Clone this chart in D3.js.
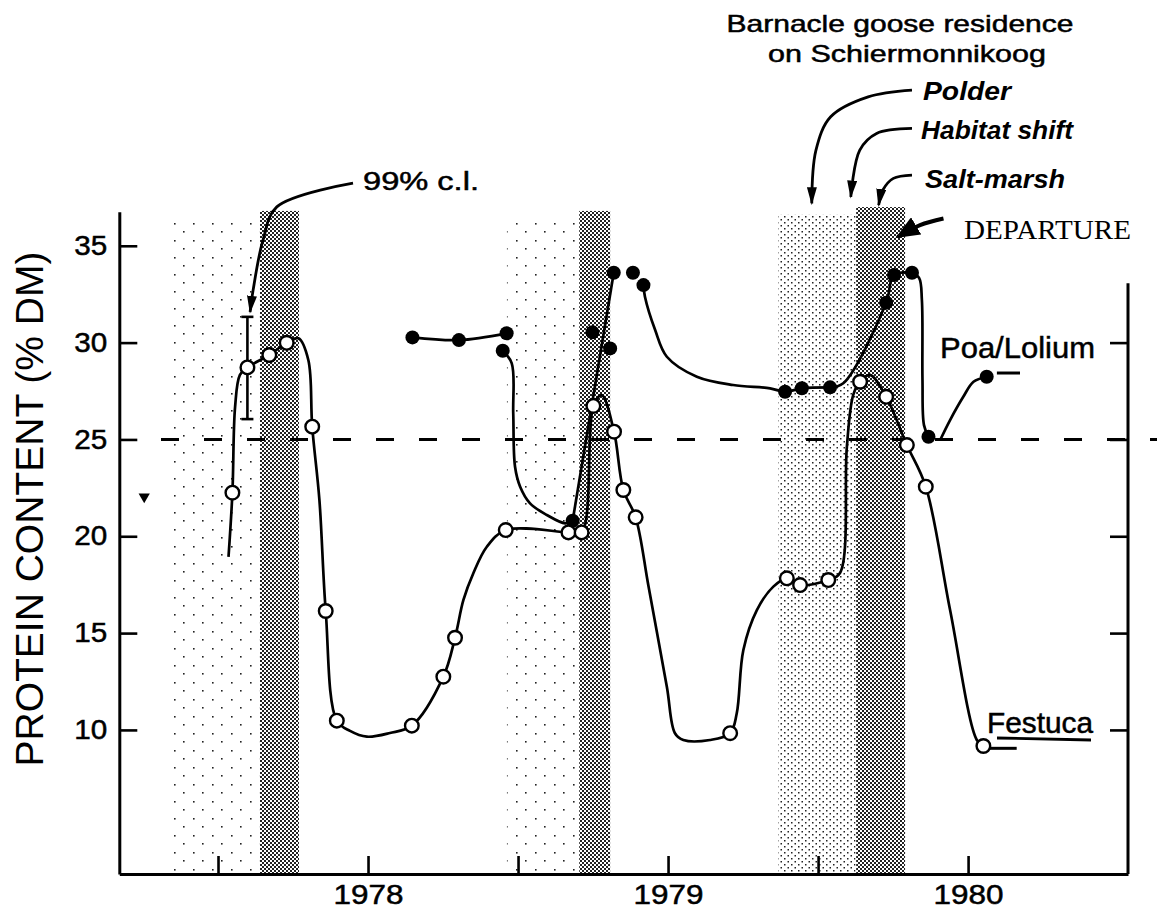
<!DOCTYPE html>
<html>
<head>
<meta charset="utf-8">
<script src="https://cdn.jsdelivr.net/npm/d3@7"></script>
<style>
  body { margin: 0; background: #fff; }
  svg { display: block; font-family: "Liberation Sans", Arial, sans-serif; }
  .heavy { stroke: #000; stroke-width: 0.5; }
</style>
</head>
<body>
<div id="chart"></div>
<script>
// ---- data (year, protein % DM) ----

// Festuca: open circles
const festucaPoints = [
    [1977.548, 22.25], [1977.598, 28.72], [1977.671, 29.36], [1977.729, 29.99],
    [1977.814, 25.66], [1977.859, 16.14], [1977.896, 10.48], [1978.146, 10.22],
    [1978.251, 12.75], [1978.290, 14.76], [1978.459, 20.32], [1978.668, 20.20],
    [1978.712, 20.20], [1978.751, 26.73], [1978.820, 25.40], [1978.851, 22.39],
    [1978.892, 20.98], [1979.207, 9.83], [1979.396, 17.83], [1979.440, 17.48],
    [1979.534, 17.74], [1979.640, 27.98], [1979.727, 27.20], [1979.796, 24.71],
    [1979.859, 22.56], [1980.051, 9.17]
];

// hand drawn Festuca line
const festucaLine = [
    [1977.535, 18.94], [1977.548, 22.25], [1977.557, 26.69], [1977.573, 28.33],
    [1977.598, 28.72], [1977.671, 29.36], [1977.729, 29.99], [1977.768, 30.22],
    [1977.801, 29.10], [1977.814, 25.66], [1977.838, 21.87], [1977.859, 16.14],
    [1977.896, 10.48], [1977.940, 9.95], [1977.996, 9.65], [1978.073, 9.84],
    [1978.146, 10.22], [1978.251, 12.75], [1978.290, 14.76], [1978.318, 16.71],
    [1978.351, 18.09], [1978.396, 19.46], [1978.459, 20.32], [1978.668, 20.20],
    [1978.712, 20.20], [1978.751, 26.73], [1978.779, 27.29], [1978.820, 25.40],
    [1978.851, 22.39], [1978.892, 20.98], [1978.935, 17.40],
    [1978.996, 12.23], [1979.023, 9.83], [1979.051, 9.48], [1979.140, 9.48],
    [1979.207, 9.83], [1979.229, 10.86], [1979.251, 14.13], [1979.296, 16.19],
    [1979.351, 17.40], [1979.396, 17.83], [1979.440, 17.48], [1979.534, 17.74],
    [1979.573, 18.10], [1979.596, 24.62], [1979.617, 27.29], [1979.640, 27.98],
    [1979.673, 28.33], [1979.727, 27.20], [1979.796, 24.71], [1979.859, 22.56],
    [1979.940, 16.19], [1980.029, 9.48], [1980.051, 9.17]
];

// Poa/Lolium: filled circles
const poaPoints = [
    [1978.148, 30.27], [1978.303, 30.13], [1978.462, 30.48], [1978.449, 29.58],
    [1978.682, 20.80], [1978.748, 30.53], [1978.807, 29.70], [1978.819, 33.61],
    [1978.883, 33.61], [1978.918, 32.97], [1979.390, 27.46], [1979.446, 27.64],
    [1979.540, 27.69], [1979.727, 32.06], [1979.753, 33.49], [1979.813, 33.61],
    [1979.868, 25.14], [1980.062, 28.24]
];

// Poa/Lolium line pieces
const poaLines = [
    [[1978.148, 30.27], [1978.303, 30.13], [1978.462, 30.48]],
    [[1978.449, 29.58], [1978.479, 28.93], [1978.484, 26.35], [1978.490, 23.59],
     [1978.507, 22.56], [1978.540, 21.70], [1978.596, 21.10], [1978.657, 20.67], [1978.682, 20.80]],
    [[1978.682, 20.80], [1978.819, 33.61]],
    [[1978.918, 32.97], [1978.923, 32.37], [1978.957, 30.65], [1978.996, 29.27],
     [1979.096, 28.24], [1979.217, 27.81], [1979.340, 27.64], [1979.390, 27.46],
     [1979.446, 27.64], [1979.540, 27.69]],
    [[1979.540, 27.69], [1979.584, 27.90], [1979.727, 32.06], [1979.753, 33.49], [1979.813, 33.61]],
    [[1979.813, 33.61], [1979.837, 33.33], [1979.846, 32.20], [1979.848, 28.07],
     [1979.853, 25.74], [1979.868, 25.14]],
    [[1979.907, 24.97], [1979.940, 26.00], [1979.984, 27.20], [1980.018, 27.98], [1980.062, 28.24]]
];

// legend stubs after the last points
const festucaStub = [[1980.073, 9.05], [1980.162, 9.05]];
const poaStub = [[1980.096, 28.43], [1980.173, 28.43]];

// 99% confidence limit: year, low, high
const errorBar = [1977.598, 26.05, 31.33];
const oddMark = [1977.254, 22.04];

// shaded periods [start, end, top]
const darkBands = [[1977.640, 1977.770, 36.8], [1978.704, 1978.807, 36.8], [1979.627, 1979.790, 37.0]];
const sparseBands = [[1977.330, 1977.637, 36.5], [1978.463, 1978.703, 36.5]];
const polderBands = [[1979.367, 1979.625, 36.6]];

const refLevel = [1977.31, 1980.65, 25];

// axes
const yTicks = [10, 15, 20, 25, 30, 35];
const yTicksRight = [10, 15, 20, 25, 30];
const xTicks = [1977.5, 1978, 1978.5, 1979, 1979.5, 1980];
const xLabels = [1978, 1979, 1980];
const rightAxisTop = 33.07;

// annotation arrows (year, value), drawn tail -> head
const arrowCl = [[1977.950, 38.24], [1977.696, 37.01], [1977.650, 35.29], [1977.617, 32.71], [1977.607, 31.58]];
const arrowPolder = [[1979.813, 43.04], [1979.667, 42.69], [1979.542, 41.66], [1979.493, 39.94], [1979.479, 37.19]];
const arrowShift = [[1979.813, 41.06], [1979.695, 40.80], [1979.639, 39.94], [1979.609, 37.53]];
const arrowMarsh = [[1979.813, 38.65], [1979.751, 38.48], [1979.716, 37.88], [1979.702, 37.10]];
const arrowDeparture = [[1979.918, 36.41], [1979.840, 36.07], [1979.765, 35.46]];

// ---- chart ----
const width = 1157, height = 910;

const x = d3.scaleLinear([1977.171, 1980.533], [119.3, 1128]);
const y = d3.scaleLinear([2.56, 36.76], [874, 211.7]);

const svg = d3.select('#chart').append('svg')
    .attr('width', width)
    .attr('height', height);

const defs = svg.append('defs');

// halftone fills
function pattern(id, w, h, dots, size) {
    const p = defs.append('pattern')
        .attr('id', id)
        .attr('patternUnits', 'userSpaceOnUse')
        .attr('width', w).attr('height', h);
    p.append('rect').attr('width', w).attr('height', h).attr('fill', '#fff');
    dots.forEach(d => p.append('rect')
        .attr('x', d[0]).attr('y', d[1])
        .attr('width', size).attr('height', size)
        .attr('fill', '#222'));
}
pattern('dark', 4, 4, [[0, 0], [2, 2]], 2);
pattern('polder', 7, 6, [[0, 0], [3.5, 3]], 1.5);
pattern('sparse', 19, 17, [[3, 2], [12, 10]], 1.6);

function arrowHead(id, len, wid) {
    defs.append('marker')
        .attr('id', id)
        .attr('viewBox', '0 0 10 10')
        .attr('refX', 9).attr('refY', 5)
        .attr('markerUnits', 'userSpaceOnUse')
        .attr('markerWidth', len).attr('markerHeight', wid)
        .attr('preserveAspectRatio', 'none')
        .attr('orient', 'auto')
        .append('path')
        .attr('d', 'M0,0 L10,5 L0,10 Z')
        .attr('fill', '#000');
}
arrowHead('head', 18, 10);
arrowHead('bighead', 24, 20);

// bands
const bands = svg.append('g');
function drawBands(list, fill) {
    bands.selectAll(null)
        .data(list)
        .join('rect')
        .attr('x', d => x(d[0]))
        .attr('width', d => x(d[1]) - x(d[0]))
        .attr('y', d => y(d[2]))
        .attr('height', d => y.range()[0] - y(d[2]))
        .attr('fill', fill);
}
drawBands(sparseBands, 'url(#sparse)');
drawBands(polderBands, 'url(#polder)');
drawBands(darkBands, 'url(#dark)');

// 25 % reference line
svg.append('line')
    .attr('x1', x(refLevel[0])).attr('x2', x(refLevel[1]))
    .attr('y1', y(refLevel[2])).attr('y2', y(refLevel[2]))
    .attr('stroke', '#000')
    .attr('stroke-width', 3)
    .attr('stroke-dasharray', '18,25');

const line = d3.line()
    .x(d => x(d[0]))
    .y(d => y(d[1]))
    .curve(d3.curveCatmullRom.alpha(0.5));

const lines = svg.append('g')
    .attr('fill', 'none')
    .attr('stroke', '#000')
    .attr('stroke-width', 2.7)
    .attr('stroke-linejoin', 'round');

lines.append('path').attr('d', line(festucaLine));
lines.selectAll('path.poa')
    .data(poaLines)
    .join('path')
    .classed('poa', true)
    .attr('d', d => line(d));
lines.append('path').attr('d', line(festucaStub)).attr('stroke-width', 3);
lines.append('path').attr('d', line(poaStub)).attr('stroke-width', 3);

// error bar
const eb = svg.append('g').attr('stroke', '#000').attr('stroke-width', 2.6);
eb.append('line')
    .attr('x1', x(errorBar[0])).attr('x2', x(errorBar[0]))
    .attr('y1', y(errorBar[1])).attr('y2', y(errorBar[2]));
[errorBar[1], errorBar[2]].forEach(v => eb.append('line')
    .attr('x1', x(errorBar[0]) - 6).attr('x2', x(errorBar[0]) + 6)
    .attr('y1', y(v)).attr('y2', y(v)));

svg.append('path')
    .attr('d', d3.symbol(d3.symbolTriangle, 55)())
    .attr('transform', `translate(${x(oddMark[0])},${y(oddMark[1])}) rotate(180)`)
    .attr('fill', '#000');

// markers
svg.append('g')
    .selectAll('circle')
    .data(poaPoints)
    .join('circle')
    .attr('cx', d => x(d[0]))
    .attr('cy', d => y(d[1]))
    .attr('r', 7)
    .attr('fill', '#000');

svg.append('g')
    .selectAll('circle')
    .data(festucaPoints)
    .join('circle')
    .attr('cx', d => x(d[0]))
    .attr('cy', d => y(d[1]))
    .attr('r', 6.8)
    .attr('fill', '#fff')
    .attr('stroke', '#000')
    .attr('stroke-width', 2.4);

// axes
function styleAxis(g, labelLen) {
    g.attr('font-family', null).attr('font-size', null);
    g.selectAll('.domain').attr('stroke-width', 3);
    g.selectAll('.tick line').attr('stroke-width', 2.6);
    g.selectAll('.tick text')
        .classed('heavy', true)
        .attr('font-size', 27)
        .attr('fill', '#000')
        .attr('textLength', labelLen)
        .attr('lengthAdjust', 'spacingAndGlyphs');
}

const axisY = svg.append('g')
    .attr('transform', `translate(${x.range()[0]},0)`)
    .call(d3.axisLeft(y).tickValues(yTicks).tickSize(-18).tickSizeOuter(0).tickPadding(12));
styleAxis(axisY, 33);

const axisX = svg.append('g')
    .attr('transform', `translate(0,${y.range()[0]})`)
    .call(d3.axisBottom(x).tickValues(xTicks).tickSize(-18).tickSizeOuter(0).tickPadding(11)
        .tickFormat(d => xLabels.includes(d) ? d3.format('d')(d) : ''));
styleAxis(axisX, 70);

const axisR = svg.append('g')
    .attr('transform', `translate(${x.range()[1]},0)`)
    .call(d3.axisRight(y).tickValues(yTicksRight).tickSize(-18).tickFormat(''));
axisR.select('.domain').remove();
axisR.selectAll('.tick line').attr('stroke-width', 2.6);
axisR.append('line')
    .attr('y1', y.range()[0]).attr('y2', y(rightAxisTop))
    .attr('stroke', '#000').attr('stroke-width', 3);

// y axis title
svg.append('text')
    .attr('transform', 'translate(43,509) rotate(-90)')
    .attr('text-anchor', 'middle')
    .attr('font-size', 38)
    .attr('textLength', 515)
    .attr('lengthAdjust', 'spacingAndGlyphs')
    .text('PROTEIN CONTENT (% DM)');

// annotations
const notes = [
    { text: 'Barnacle goose residence', x: 900, y: 32, len: 347 },
    { text: 'on Schiermonnikoog', x: 907, y: 62, len: 278 },
];
svg.append('g').selectAll('text')
    .data(notes)
    .join('text')
    .classed('heavy', true)
    .attr('x', d => d.x).attr('y', d => d.y)
    .attr('text-anchor', 'middle')
    .attr('font-size', 24)
    .attr('textLength', d => d.len)
    .attr('lengthAdjust', 'spacingAndGlyphs')
    .text(d => d.text);

const italics = [
    { text: 'Polder', x: 923, y: 100, len: 88 },
    { text: 'Habitat shift', x: 921, y: 139, len: 152 },
    { text: 'Salt-marsh', x: 925, y: 188, len: 140 },
];
svg.append('g').selectAll('text')
    .data(italics)
    .join('text')
    .attr('x', d => d.x).attr('y', d => d.y)
    .attr('font-size', 26)
    .attr('font-style', 'italic')
    .attr('font-weight', 'bold')
    .attr('textLength', d => d.len)
    .attr('lengthAdjust', 'spacingAndGlyphs')
    .text(d => d.text);

svg.append('text')
    .attr('x', 964).attr('y', 239)
    .attr('font-family', '"Liberation Serif", "DejaVu Serif", serif')
    .attr('font-size', 27)
    .attr('textLength', 167)
    .attr('lengthAdjust', 'spacingAndGlyphs')
    .text('DEPARTURE');

svg.append('text')
    .classed('heavy', true)
    .attr('x', 363).attr('y', 190)
    .attr('font-size', 26)
    .attr('textLength', 116)
    .attr('lengthAdjust', 'spacingAndGlyphs')
    .text('99% c.l.');

svg.append('text')
    .classed('heavy', true)
    .attr('x', 940).attr('y', 358)
    .attr('font-size', 30)
    .attr('textLength', 155)
    .attr('lengthAdjust', 'spacingAndGlyphs')
    .text('Poa/Lolium');

svg.append('text')
    .classed('heavy', true)
    .attr('x', 987).attr('y', 733)
    .attr('font-size', 29)
    .attr('textLength', 106)
    .attr('lengthAdjust', 'spacingAndGlyphs')
    .text('Festuca');
svg.append('line')
    .attr('x1', 997).attr('x2', 1091).attr('y1', 738).attr('y2', 740)
    .attr('stroke', '#000').attr('stroke-width', 2.8);

// arrows
const arrows = svg.append('g')
    .attr('fill', 'none')
    .attr('stroke', '#000')
    .attr('stroke-width', 2.8);
[arrowCl, arrowPolder, arrowShift, arrowMarsh].forEach(a => arrows.append('path')
    .attr('d', line(a))
    .attr('marker-end', 'url(#head)'));
arrows.append('path')
    .attr('d', line(arrowDeparture))
    .attr('stroke-width', 4)
    .attr('marker-end', 'url(#bighead)');
</script>
</body>
</html>
